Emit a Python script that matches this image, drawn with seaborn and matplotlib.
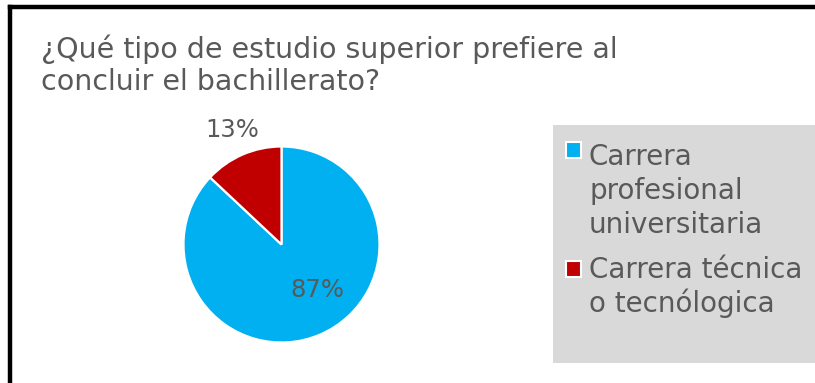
import matplotlib
matplotlib.use("Agg")
import matplotlib.pyplot as plt
import seaborn as sns
from matplotlib.patches import Rectangle
from matplotlib.lines import Line2D

# Survey data
categories = ["Carrera\nprofesional\nuniversitaria", "Carrera técnica\no tecnólogica"]
percentages = [87, 13]
colors = ["#00B0F0", "#C00000"]
title_lines = ["¿Qué tipo de estudio superior prefiere al", "concluir el bachillerato?"]

sns.set_theme(style="white")
plt.rcParams["font.family"] = ["DejaVu Sans"]

TEXT = "#595959"
W, H = 815, 383
fig = plt.figure(figsize=(W / 100, H / 100), dpi=100)
fig.patch.set_facecolor("white")


def fx(x):
    return x / W


def fy(y):
    return 1 - y / H


# Chart frame (left and top edges)
fig.add_artist(Line2D([fx(10), fx(10)], [0, fy(7)], color="black", lw=3.2,
                      transform=fig.transFigure, solid_capstyle="projecting"))
fig.add_artist(Line2D([fx(10), 1], [fy(7), fy(7)], color="black", lw=3.2,
                      transform=fig.transFigure, solid_capstyle="projecting"))

# Title
for i, line in enumerate(title_lines):
    fig.text(fx(41), fy(58 + 32 * i), line, fontsize=20.5, color=TEXT, va="baseline")

# Pie
cx, cy, r = 281.5, 244.5, 98
ax = fig.add_axes([fx(cx - r), fy(cy + r), 2 * r / W, 2 * r / H])
wedges, _ = ax.pie(percentages, colors=colors, startangle=90, counterclock=False,
                   wedgeprops=dict(edgecolor="white", linewidth=1.6))
ax.set_xlim(-1, 1)
ax.set_ylim(-1, 1)
ax.axis("off")

label_pos = [(0.37, -0.46), (-0.505, 1.168)]
for val, (lx, ly) in zip(percentages, label_pos):
    ax.text(lx, ly, f"{val}%", ha="center", va="center", fontsize=17.5,
            color=TEXT, clip_on=False)

# Legend panel
fig.add_artist(Rectangle((fx(553), fy(363)), 1 - fx(553), fy(125) - fy(363),
                         transform=fig.transFigure, facecolor="#D9D9D9",
                         edgecolor="none", zorder=0))
legend_rows = [(150, 165), (269, 278)]
line_pitch = 34
for label, color, (sq_y, base_y) in zip(categories, colors, legend_rows):
    fig.add_artist(Rectangle((fx(566), fy(sq_y + 8)), 15 / W, 16 / H,
                             transform=fig.transFigure, facecolor=color,
                             edgecolor="white", linewidth=1.5))
    for j, part in enumerate(label.split("\n")):
        fig.text(fx(589), fy(base_y + line_pitch * j), part, fontsize=20,
                 color=TEXT, va="baseline")

fig.savefig("out.png", dpi=100)
